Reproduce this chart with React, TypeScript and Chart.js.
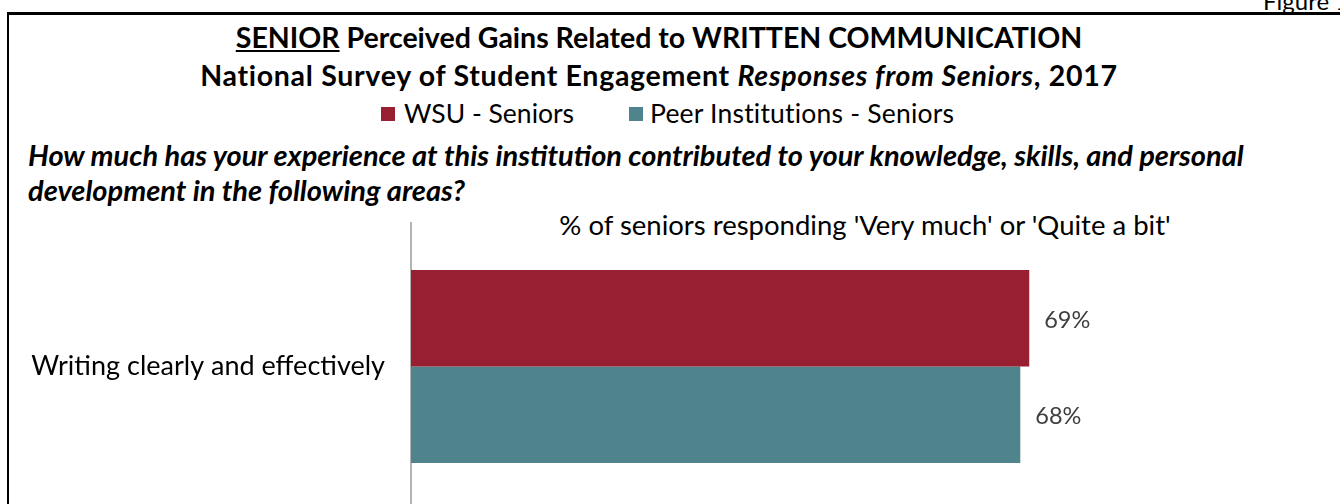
import React, { useEffect, useRef } from 'react';
import { Chart, registerables } from 'chart.js';

Chart.register(...registerables);

const categories: string[] = ['Writing clearly and effectively'];
const seriesNames: string[] = ['WSU - Seniors', 'Peer Institutions - Seniors'];
const wsuValues: number[] = [69];
const peerValues: number[] = [68];
const seriesColors: string[] = ['#981e32', '#4f848c'];
const axisMin = 0;
const axisMax = 100;

const FONT = 'Lato, "Open Sans", sans-serif';

const valueLabelPlugin = {
  id: 'valueLabels',
  afterDatasetsDraw(chart: any) {
    const ctx = chart.ctx;
    ctx.save();
    ctx.font = `23.5px ${FONT}`;
    ctx.fillStyle = '#404040';
    ctx.textBaseline = 'middle';
    ctx.textAlign = 'left';
    chart.data.datasets.forEach((ds: any, i: number) => {
      const meta = chart.getDatasetMeta(i);
      meta.data.forEach((el: any, j: number) => {
        ctx.fillText(`${ds.data[j]}%`, el.x + 15, el.y + 2);
      });
    });
    ctx.restore();
  },
};

function BarChart() {
  const ref = useRef<HTMLCanvasElement | null>(null);
  useEffect(() => {
    if (!ref.current) return;
    const chart = new Chart(ref.current, {
      type: 'bar',
      data: {
        labels: categories,
        datasets: [
          {
            label: seriesNames[0],
            data: wsuValues,
            backgroundColor: seriesColors[0],
            barPercentage: 1,
            categoryPercentage: 0.668,
          },
          {
            label: seriesNames[1],
            data: peerValues,
            backgroundColor: seriesColors[1],
            barPercentage: 1,
            categoryPercentage: 0.668,
          },
        ],
      },
      options: {
        indexAxis: 'y',
        responsive: false,
        maintainAspectRatio: false,
        animation: false,
        devicePixelRatio: 1,
        layout: { autoPadding: false, padding: { left: 0, right: 33, top: 0, bottom: 0 } },
        plugins: {
          legend: { display: false },
          tooltip: { enabled: false },
          title: { display: false },
        },
        scales: {
          x: { display: false, min: axisMin, max: axisMax },
          y: {
            afterFit: (s: any) => {
              s.width = 411;
              s.paddingTop = 0;
              s.paddingBottom = 0;
            },
            grid: { display: false, drawTicks: false },
            border: { display: true, color: '#b3b3b3', width: 2 },
            ticks: {
              color: '#000000',
              font: { family: FONT, size: 27 },
              padding: 26,
            },
          },
        },
      },
      plugins: [valueLabelPlugin],
    } as any);
    return () => chart.destroy();
  }, []);
  return (
    <canvas
      ref={ref}
      width={1340}
      height={289}
      style={{ position: 'absolute', left: 0, top: 222, width: 1340, height: 289 }}
    />
  );
}

export default function App() {
  const abs: React.CSSProperties = { position: 'absolute', whiteSpace: 'nowrap', fontFamily: FONT };
  return (
    <div
      style={{
        position: 'absolute',
        left: 0,
        top: 0,
        width: 1340,
        height: 504,
        overflow: 'hidden',
        background: '#ffffff',
        color: '#000000',
      }}
    >
      <div style={{ ...abs, left: 1263, top: -13, fontSize: 24, lineHeight: '28px' }}>Figure 1</div>
      <div
        style={{
          position: 'absolute',
          left: 7,
          top: 12,
          width: 1400,
          height: 600,
          borderTop: '3px solid #000',
          borderLeft: '2px solid #000',
        }}
      />
      <div
        style={{
          ...abs,
          left: 0,
          top: 18,
          width: 1318,
          textAlign: 'center',
          fontWeight: 'bold',
          fontSize: 28.5,
          lineHeight: '38px',
        }}
      >
        <div>
          <span style={{ textDecoration: 'underline' }}>SENIOR</span> Perceived Gains Related to WRITTEN COMMUNICATION
        </div>
        <div style={{ letterSpacing: 0.7 }}>
          National Survey of Student Engagement <i>Responses from Seniors</i>, 2017
        </div>
      </div>
      {seriesNames.map((n, i) => (
        <React.Fragment key={n}>
          <div
            style={{
              position: 'absolute',
              left: i === 0 ? 381 : 629,
              top: 107,
              width: 14,
              height: 14,
              background: seriesColors[i],
            }}
          />
          <div style={{ ...abs, left: i === 0 ? 404 : 650, top: 98, fontSize: 26.5, lineHeight: '30px', letterSpacing: i === 0 ? 0 : 0.2 }}>{n}</div>
        </React.Fragment>
      ))}
      <div
        style={{
          ...abs,
          left: 28,
          top: 137,
          fontSize: 29,
          lineHeight: '35px',
          fontWeight: 'bold',
          fontStyle: 'italic',
        }}
      >
        <div>How much has your experience at this institution contributed to your knowledge, skills, and personal</div>
        <div>development in the following areas?</div>
      </div>
      <div style={{ ...abs, left: 411, width: 908, top: 210, textAlign: 'center', fontSize: 27.5, lineHeight: '30px' }}>
        % of seniors responding 'Very much' or 'Quite a bit'
      </div>
      <BarChart />
    </div>
  );
}
